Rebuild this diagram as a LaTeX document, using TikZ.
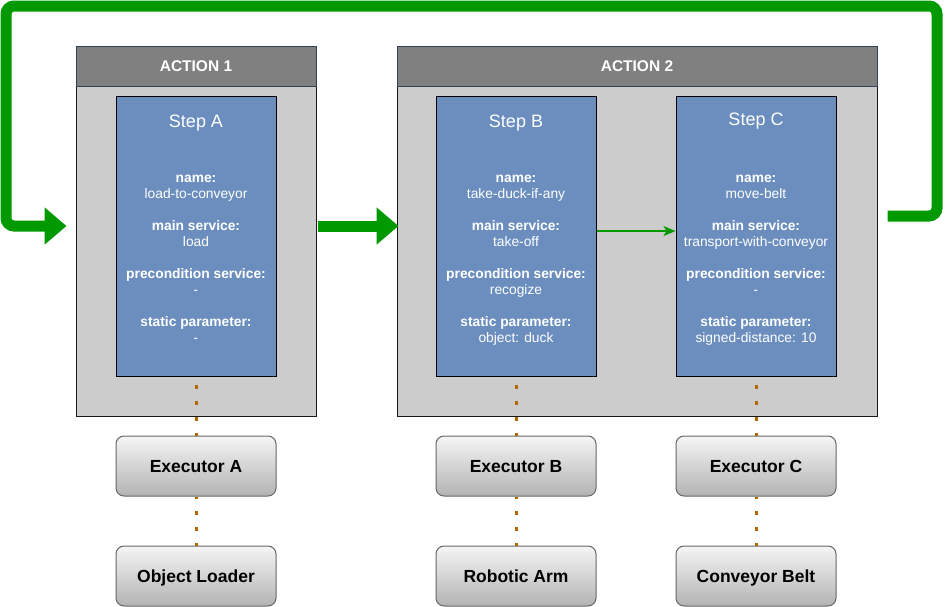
\documentclass[tikz,border=0pt]{standalone}
\usepackage{fontspec}
\setmainfont{Liberation Sans}
\usetikzlibrary{arrows.meta,calc}
\definecolor{stepblue}{HTML}{6C8EBF}
\definecolor{hdrgray}{HTML}{808080}
\definecolor{bodygray}{HTML}{CCCCCC}
\definecolor{hdrline}{HTML}{314354}
\definecolor{flowgreen}{HTML}{009900}
\definecolor{dotorange}{HTML}{B46504}
\definecolor{exline}{HTML}{666666}
\definecolor{extop}{HTML}{F5F5F5}
\definecolor{exbot}{HTML}{B3B3B3}
\newcommand{\stepinfo}[7]{%
  \node[steptitle] (#1-t) at (#1 |- 0,#2) {#3};
  \node[steplbl] (#1-l1) at (#1 |- 0,182.5) {name:};
  \node[stepval] (#1-v1) at (#1 |- 0,198) {#4};
  \node[steplbl] (#1-l2) at (#1 |- 0,230.5) {main service:};
  \node[stepval] (#1-v2) at (#1 |- 0,246) {#5};
  \node[steplbl] (#1-l3) at (#1 |- 0,278.5) {precondition service:};
  \node[stepval] (#1-v3) at (#1 |- 0,294) {#6};
  \node[steplbl] (#1-l4) at (#1 |- 0,326.5) {static parameter:};
  \node[stepval] (#1-v4) at (#1 |- 0,342) {#7};
}
\begin{document}
\begin{tikzpicture}[x=1pt,y=-1pt,
  actbody/.style={draw=black!90, fill=bodygray, line width=1pt, minimum height=370pt, inner sep=0},
  acthdr/.style={draw=hdrline, fill=hdrgray, line width=1pt, minimum height=40pt, inner sep=0,
                 text=white, font=\fontsize{15.5}{18}\selectfont\bfseries},
  stepbox/.style={draw=black, fill=stepblue, line width=1pt, minimum width=160pt, minimum height=280pt, inner sep=0},
  steptitle/.style={anchor=base, inner sep=0, text=white, font=\fontsize{18}{20}\selectfont},
  steplbl/.style={anchor=base, inner sep=0, text=white, font=\fontsize{13.8}{16}\selectfont\bfseries},
  stepval/.style={anchor=base, inner sep=0, text=white, font=\fontsize{13.8}{16}\selectfont},
  exbox/.style={draw=exline, line width=1pt, rounded corners=8pt, top color=extop, bottom color=exbot,
                minimum width=160pt, minimum height=60pt, inner sep=0, text height=12.6pt, text depth=0pt,
                font=\fontsize{17.5}{20}\selectfont\bfseries},
  bigflow/.style={draw=flowgreen, line width=11pt, -{Triangle[length=22pt,width=36pt]}},
  smallflow/.style={draw=flowgreen, line width=1.3pt, -{Stealth[length=12pt,width=10pt,inset=3pt]}},
  dotlink/.style={draw=dotorange, line width=3pt, dash pattern=on 4pt off 12pt},
]
\useasboundingbox (0,0) rectangle (948,606);

% actions
\node[actbody, minimum width=240pt] (a1body) at (196,231) {};
\node[acthdr, minimum width=240pt] (a1hdr) at (196,66) {ACTION 1};
\node[actbody, minimum width=480pt] (a2body) at (637,231) {};
\node[acthdr, minimum width=480pt] (a2hdr) at (637,66) {ACTION 2};

% steps
\node[stepbox] (stepA) at (196,236) {};
\node[stepbox] (stepB) at (516,236) {};
\node[stepbox] (stepC) at (756,236) {};
\stepinfo{stepA}{127}{Step A}{load-to-conveyor}{load}{-}{-}
\stepinfo{stepB}{127}{Step B}{take-duck-if-any}{take-off}{recogize}{object: duck}
\stepinfo{stepC}{125.5}{Step C}{move-belt}{transport-with-conveyor}{-}{signed-distance: 10}

% executors and devices
\node[exbox] (exA) at (196,466) {Executor A};
\node[exbox] (exB) at (516,466) {Executor B};
\node[exbox] (exC) at (756,466) {Executor C};
\node[exbox] (devA) at (196,576) {Object Loader};
\node[exbox] (devB) at (516,576) {Robotic Arm};
\node[exbox] (devC) at (756,576) {Conveyor Belt};

% dotted links
\foreach \s in {A,B,C}{
  \draw[dotlink, dash phase=8pt] (step\s.south) -- (ex\s.north);
  \draw[dotlink, dash phase=2pt] (ex\s.south) -- (dev\s.north);
}

% flows
\coordinate (loopstart) at ($(a2body.east)+(10,-15)$);
\coordinate (loopend) at ($(a1body.west)+(-9,-5)$);
\coordinate (midstart) at ($(a1body.east)+(1,-5)$);
\coordinate (midend) at ($(a2body.west)+(2,-5)$);
\draw[bigflow, rounded corners=8pt] (loopstart) -- (937,216) -- (937,6) -- (6,6) -- (6,226) -- (loopend);
\draw[bigflow] (midstart) -- (midend);
\draw[smallflow] ($(stepB.east)+(0,-5)$) -- ($(stepC.west)+(0,-5)$);
\end{tikzpicture}
\end{document}
